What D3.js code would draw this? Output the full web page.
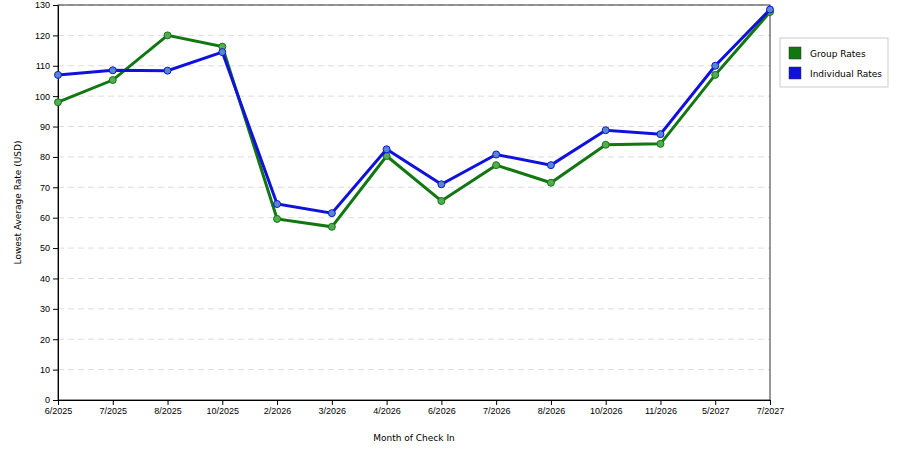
<!DOCTYPE html>
<html><head><meta charset="utf-8">
<script src="https://cdn.jsdelivr.net/npm/d3@7"></script>
<style>body{margin:0;background:#fff}svg{font-family:"DejaVu Sans",Verdana,sans-serif}</style>
</head><body><svg id="c" width="900" height="450"></svg>
<script>
const categories=["6/2025","7/2025","8/2025","10/2025","2/2026","3/2026","4/2026","6/2026","7/2026","8/2026","10/2026","11/2026","5/2027","7/2027"];
const groupRates=[98,105.3,120,116.3,59.6,57,80.3,65.5,77.3,71.5,84,84.3,107,127.7];
const individualRates=[107,108.5,108.4,114.5,64.5,61.5,82.5,71,80.8,77.3,88.8,87.5,110,128.5];
const yTicks=d3.range(0,131,10);
const svg=d3.select("#c");
const L=58,R=770,T=5,B=400;
const x=d3.scalePoint().domain(categories).range([L,R]);
const y=d3.scaleLinear().domain([0,130]).range([B,T]);
const g=svg.append("g");
g.selectAll(".gl").data(yTicks.filter(d=>d>0)).enter().append("line")
 .attr("x1",L).attr("x2",R).attr("y1",d=>y(d)).attr("y2",d=>y(d))
 .attr("stroke","#ddd").attr("stroke-dasharray","6,4");
svg.append("rect").attr("x",L).attr("y",T).attr("width",R-L).attr("height",B-T).attr("fill","none").attr("stroke","#000").attr("stroke-width",0.8);
const ya=svg.append("g").attr("transform",`translate(${L},0)`).call(d3.axisLeft(y).tickValues(yTicks).tickSize(5).tickSizeOuter(0));
const xa=svg.append("g").attr("transform",`translate(0,${B})`).call(d3.axisBottom(x).tickSize(5).tickSizeOuter(0));
[ya,xa].forEach(a=>{a.selectAll("text").attr("font-size",9).attr("fill","#000");a.select(".domain").attr("stroke","#000");});
svg.append("text").attr("x",(L+R)/2).attr("y",441).attr("text-anchor","middle").attr("font-size",9).text("Month of Check In");
svg.append("text").attr("transform",`translate(21,${(T+B)/2}) rotate(-90)`).attr("text-anchor","middle").attr("font-size",9).text("Lowest Average Rate (USD)");
const line=d3.line().x((d,i)=>x(categories[i])).y(d=>y(d));
[[groupRates,"#117711","#5a5"],[individualRates,"#1111dd","#58c"]].forEach(([data,col,fill])=>{
 svg.append("path").datum(data).attr("d",line).attr("fill","none").attr("stroke",col).attr("stroke-width",3);
 svg.selectAll(null).data(data).enter().append("circle").attr("cx",(d,i)=>x(categories[i])).attr("cy",d=>y(d)).attr("r",3.5).attr("fill",fill).attr("stroke",col).attr("stroke-width",1);
});
const lg=svg.append("g");
lg.append("rect").attr("x",780).attr("y",38).attr("width",108).attr("height",49).attr("fill","#fff").attr("stroke","#ccc");
[["Group Rates","#117711"],["Individual Rates","#1111dd"]].forEach(([t,c],i)=>{
 lg.append("rect").attr("x",789).attr("y",47+i*20).attr("width",12).attr("height",12).attr("fill",c).attr("stroke","#333").attr("stroke-width",0.5);
 lg.append("text").attr("x",810).attr("y",57+i*20).attr("font-size",9).text(t);
});
</script></body></html>
